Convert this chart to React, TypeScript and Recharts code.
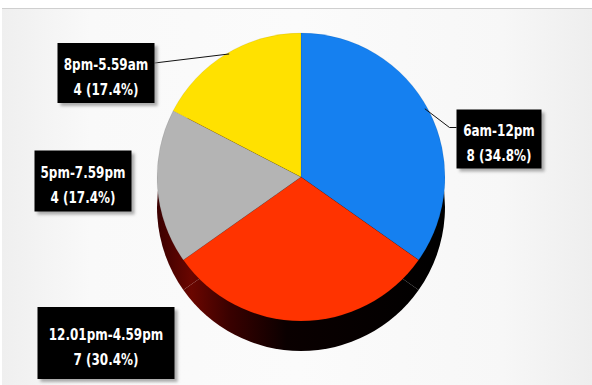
import React from "react";
import { PieChart, Pie, Cell } from "recharts";

const categories = ["6am-12pm", "12.01pm-4.59pm", "5pm-7.59pm", "8pm-5.59am"];
const counts = [8, 7, 4, 4];
const sliceColors = ["#1580f0", "#ff3300", "#b4b4b4", "#ffe100"];

const data = categories.map((name, i) => ({ name, value: counts[i] }));

// label box layout (relative to pie centre), separate from data
const labelLayout = [
  { dx: 198, dy: -38, w: 85, h: 59, leader: "elbow" },
  { dx: -195, dy: 166, w: 137, h: 72, leader: "none" },
  { dx: -218, dy: 4, w: 97, h: 61, leader: "none" },
  { dx: -195, dy: -104, w: 97, h: 60, leader: "straight" },
];

const CX = 301;
const CY = 177;
const R = 144;
const DEPTH = 30;
const RAD = Math.PI / 180;
const FONT = "'DejaVu Sans Condensed', 'Liberation Sans Narrow', sans-serif";

const renderLabel = (props: any) => {
  const { cx, cy, midAngle, outerRadius, index, percent, value, name } = props;
  const L = labelLayout[index];
  const bx = cx + L.dx;
  const by = cy + L.dy;
  const left = bx - L.w / 2;
  const top = by - L.h / 2;
  const ex = cx + outerRadius * Math.cos(-midAngle * RAD);
  const ey = cy + outerRadius * Math.sin(-midAngle * RAD);
  let leader: React.ReactNode = null;
  if (L.leader === "straight") {
    leader = (
      <polyline points={`${ex + 3},${ey} ${left + L.w},${top + 20}`} fill="none" stroke="#111" strokeWidth={1} />
    );
  } else if (L.leader === "elbow") {
    leader = (
      <polyline
        points={`${ex - 4},${ey - 2} ${left - 7},${top + 18} ${left},${top + 18}`}
        fill="none"
        stroke="#111"
        strokeWidth={1}
      />
    );
  }
  const pct = (percent * 100).toFixed(1);
  const sx = 0.86;
  return (
    <g>
      {leader}
      <rect x={left + 3} y={top + 3} width={L.w} height={L.h} fill="#8a8a8a" opacity={0.7} filter="url(#boxBlur)" />
      <rect x={left} y={top} width={L.w} height={L.h} fill="#000" />
      <g transform={`translate(${bx} 0) scale(${sx} 1)`}>
        <text x={0} y={by - 3} textAnchor="middle" fill="#fff" fontFamily={FONT} fontWeight="bold" fontSize={15.5}>
          {name}
        </text>
        <text x={0} y={by + 22} textAnchor="middle" fill="#fff" fontFamily={FONT} fontWeight="bold" fontSize={15.5}>
          {`${value} (${pct}%)`}
        </text>
      </g>
    </g>
  );
};

export default function App() {
  return (
    <div
      style={{
        position: "absolute",
        left: 0,
        top: 0,
        width: 592,
        height: 385,
        background: "#ffffff",
        overflow: "hidden",
      }}
    >
      <div
        style={{
          position: "absolute",
          left: 2,
          top: 8,
          width: 590,
          height: 377,
          borderTop: "1px solid #cfcfcf",
          background: "linear-gradient(to right, #efefef 0%, #f9f9f9 15%, #fbfbfb 50%, #f7f7f7 85%, #eeeeee 100%)",
        }}
      />
      <div style={{ position: "absolute", left: 0, top: 0 }}>
        <PieChart width={592} height={385} margin={{ top: 0, right: 0, bottom: 0, left: 0 }}>
          <defs>
            <linearGradient id="sideGrad" gradientUnits="userSpaceOnUse" x1={157} y1={0} x2={445} y2={0}>
              <stop offset="0%" stopColor="#3a0000" />
              <stop offset="12%" stopColor="#6a0600" />
              <stop offset="25%" stopColor="#3a0100" />
              <stop offset="45%" stopColor="#0a0000" />
              <stop offset="100%" stopColor="#000000" />
            </linearGradient>
            <filter id="boxBlur" x="-20%" y="-20%" width="140%" height="140%">
              <feGaussianBlur stdDeviation="1.5" />
            </filter>
          </defs>
          <Pie
            data={data}
            dataKey="value"
            nameKey="name"
            cx={CX}
            cy={CY + DEPTH}
            outerRadius={R}
            startAngle={90}
            endAngle={-270}
            stroke="none"
            isAnimationActive={false}
            label={false}
            labelLine={false}
          >
            {data.map((d, i) => (
              <Cell key={`s-${i}`} fill="url(#sideGrad)" />
            ))}
          </Pie>
          <Pie
            data={data}
            dataKey="value"
            nameKey="name"
            cx={CX}
            cy={CY}
            outerRadius={R}
            startAngle={90}
            endAngle={-270}
            stroke="rgba(0,0,0,0.12)"
            strokeWidth={0.6}
            isAnimationActive={false}
            label={renderLabel}
            labelLine={false}
          >
            {data.map((d, i) => (
              <Cell key={`c-${i}`} fill={sliceColors[i]} />
            ))}
          </Pie>
        </PieChart>
      </div>
    </div>
  );
}
